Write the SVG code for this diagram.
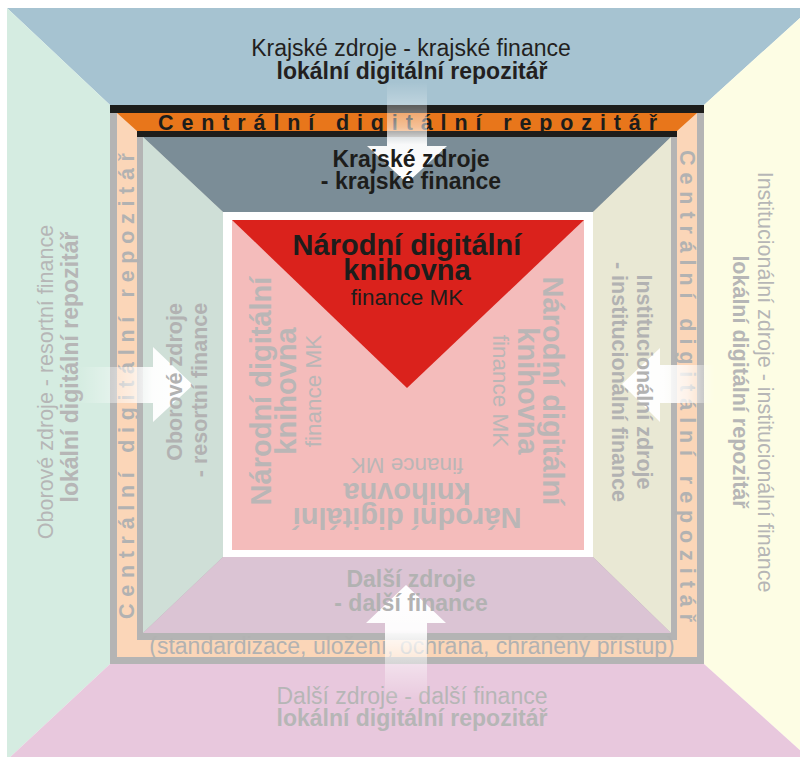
<svg xmlns="http://www.w3.org/2000/svg" width="800" height="757" viewBox="0 0 800 757">
<style>
text{font-family:"Liberation Sans",Arial,sans-serif}
.r23{font-size:23px}
.r22{font-size:21.5px}
.b{font-weight:bold}
.dk{fill:#231f20}
.gy{fill:#b6b6b6}
.gy2{fill:#b2b2b2}
.bar{font-size:21.5px;font-weight:bold}
.ctr{font-size:29px;font-weight:bold}
.ctrs{font-size:22.5px}
</style>
<defs>
<linearGradient id="gTop" gradientUnits="userSpaceOnUse" x1="0" y1="82" x2="0" y2="183">
<stop offset="0" stop-color="#fff" stop-opacity="0"/>
<stop offset="0.45" stop-color="#fff" stop-opacity="0.55"/>
<stop offset="0.62" stop-color="#fff" stop-opacity="0.95"/>
<stop offset="1" stop-color="#fff" stop-opacity="1"/>
</linearGradient>
<linearGradient id="gLeft" gradientUnits="userSpaceOnUse" x1="78" y1="0" x2="193" y2="0">
<stop offset="0" stop-color="#fff" stop-opacity="0"/>
<stop offset="0.45" stop-color="#fff" stop-opacity="0.55"/>
<stop offset="0.65" stop-color="#fff" stop-opacity="0.95"/>
<stop offset="1" stop-color="#fff" stop-opacity="1"/>
</linearGradient>
<linearGradient id="gRight" gradientUnits="userSpaceOnUse" x1="715" y1="0" x2="622" y2="0">
<stop offset="0" stop-color="#fff" stop-opacity="0"/>
<stop offset="0.3" stop-color="#fff" stop-opacity="0.7"/>
<stop offset="0.55" stop-color="#fff" stop-opacity="0.95"/>
<stop offset="1" stop-color="#fff" stop-opacity="1"/>
</linearGradient>
<linearGradient id="gBot" gradientUnits="userSpaceOnUse" x1="0" y1="702" x2="0" y2="585">
<stop offset="0" stop-color="#fff" stop-opacity="0"/>
<stop offset="0.4" stop-color="#fff" stop-opacity="0.55"/>
<stop offset="0.62" stop-color="#fff" stop-opacity="0.95"/>
<stop offset="1" stop-color="#fff" stop-opacity="1"/>
</linearGradient>
</defs>
<rect width="800" height="757" fill="#ffffff"/>

<g id="outer-top">
<polygon points="7,8 811,8 704,105 110,105" fill="#a6c3d1"/>
<text class="r23 dk" x="411" y="56" text-anchor="middle">Krajské zdroje - krajské finance</text>
<text class="r23 b dk" x="412" y="79" text-anchor="middle">lokální digitální repozitář</text>
</g>
<g id="outer-left">
<polygon points="7,8 110,105 110,664 7,760" fill="#d5ece1"/>
<g transform="translate(53,382) rotate(-90)">
<text class="r22 gy" x="0" y="0" text-anchor="middle">Oborové zdroje - resortní finance</text>
<text class="r23 b gy" x="15" y="25" text-anchor="middle">lokální digitální repozitář</text>
</g>
</g>
<g id="outer-right">
<polygon points="811,8 704,105 704,664 811,760" fill="#fdfde4"/>
<g transform="translate(758,382) rotate(90)">
<text class="r22 gy" x="0" y="0" text-anchor="middle">Institucionální zdroje - institucionální finance</text>
<text class="r22 b gy" x="0" y="25" text-anchor="middle">lokální digitální repozitář</text>
</g>
</g>
<g id="outer-bottom">
<polygon points="7,760 110,664 704,664 811,760" fill="#e8c8dd"/>
<text class="r23 gy" x="412" y="704" text-anchor="middle">Další zdroje - další finance</text>
<text class="r23 b gy" x="412" y="726" text-anchor="middle">lokální digitální repozitář</text>
</g>

<g id="central-repository">
<rect x="110" y="105" width="594" height="559" fill="#b4b4b4"/>
<rect x="117" y="113" width="580" height="544" fill="#fbd6b8"/>
<rect x="137" y="131" width="540" height="509" fill="#b4b4b4"/>
<polygon points="117,113 697,113 677,131 137,131" fill="#e8761b"/>
<rect x="110" y="105" width="594" height="8" fill="#1d1d1b"/>
<rect x="137" y="131" width="540" height="6" fill="#1d1d1b"/>
<text class="bar" x="158" y="130" fill="#1d1d1b" textLength="499" lengthAdjust="spacing">Centrální digitální repozitář</text>
<text class="bar gy2" transform="translate(134,386) rotate(-90)" x="-233" y="0" textLength="466" lengthAdjust="spacing">Centrální digitální repozitář</text>
<text class="bar gy2" transform="translate(680,386) rotate(90)" x="-236" y="0" textLength="472" lengthAdjust="spacing">Centrální digitální repozitář</text>
<text class="r23 gy2" x="412" y="654" text-anchor="middle">(standardizace, uložení, ochrana, chráněný přístup)</text>
</g>

<g id="rooms">
<polygon points="143,137 671,137 593,212 223,212" fill="#7b8d97"/>
<polygon points="143,137 223,212 223,557 143,633" fill="#cfdfd7"/>
<polygon points="671,137 593,212 593,557 671,633" fill="#e9e8d4"/>
<polygon points="143,633 223,557 593,557 671,633" fill="#dbc4d4"/>
</g>

<g id="ndk">
<rect x="223" y="212" width="370" height="345" fill="#ffffff"/>
<rect x="232" y="220" width="352" height="330" fill="#f4bcbb"/>
<g fill="#bab6b6">
<g transform="rotate(-90,407,391)">
<text class="ctr" x="407" y="255" text-anchor="middle">Národní digitální</text>
<text class="ctr" x="407" y="280" text-anchor="middle">knihovna</text>
<text class="ctrs" x="407" y="305" text-anchor="middle">finance MK</text>
</g>
<g transform="rotate(90,407,391)">
<text class="ctr" x="407" y="255" text-anchor="middle">Národní digitální</text>
<text class="ctr" x="407" y="280" text-anchor="middle">knihovna</text>
<text class="ctrs" x="407" y="305" text-anchor="middle">finance MK</text>
</g>
<g transform="rotate(180,407,381.5)">
<text class="ctr" x="407" y="255" text-anchor="middle">Národní digitální</text>
<text class="ctr" x="407" y="280" text-anchor="middle">knihovna</text>
<text class="ctrs" x="407" y="305" text-anchor="middle">finance MK</text>
</g>
</g>
<polygon points="232,220 584,220 407,388" fill="#da221c"/>
<text class="ctr" x="407" y="255" text-anchor="middle" fill="#1d1d1b">Národní digitální</text>
<text class="ctr" x="407" y="280" text-anchor="middle" fill="#1d1d1b">knihovna</text>
<text class="ctrs" x="407" y="305" text-anchor="middle" fill="#1d1d1b">finance MK</text>
</g>

<g id="connectors">
<path d="M387,82 L427,82 L427,146 L447,146 L407,183 L367,146 L387,146 Z" fill="url(#gTop)"/>
<path d="M78,367 L153,367 L153,347 L193,385 L153,422 L153,403 L78,403 Z" fill="url(#gLeft)"/>
<path d="M715,365 L660,365 L660,348 L622,384 L660,422 L660,403 L715,403 Z" fill="url(#gRight)"/>
<path d="M385,702 L385,623 L366,623 L406,585 L446,623 L427,623 L427,702 Z" fill="url(#gBot)"/>
</g>

<g id="room-top-label">
<text class="r23 b" x="411" y="167" text-anchor="middle" fill="#1d1d1b">Krajské zdroje</text>
<text class="r23 b" x="411" y="189" text-anchor="middle" fill="#1d1d1b">- krajské finance</text>
</g>
<g id="room-left-label" transform="translate(182,384) rotate(-90)">
<text class="r22 b gy2" x="2" y="0" text-anchor="middle">Oborové zdroje</text>
<text class="r22 b gy2" x="-6" y="25" text-anchor="middle">- resortní finance</text>
</g>
<g id="room-right-label" transform="translate(637,382) rotate(90)">
<text class="r22 b gy2" x="0" y="0" text-anchor="middle">Institucionální zdroje</text>
<text class="r22 b gy2" x="0" y="25" text-anchor="middle">- institucionální finance</text>
</g>
<g id="room-bottom-label">
<text class="r23 b gy2" x="411" y="587" text-anchor="middle">Další zdroje</text>
<text class="r23 b gy2" x="411" y="611" text-anchor="middle">- další finance</text>
</g>
</svg>
